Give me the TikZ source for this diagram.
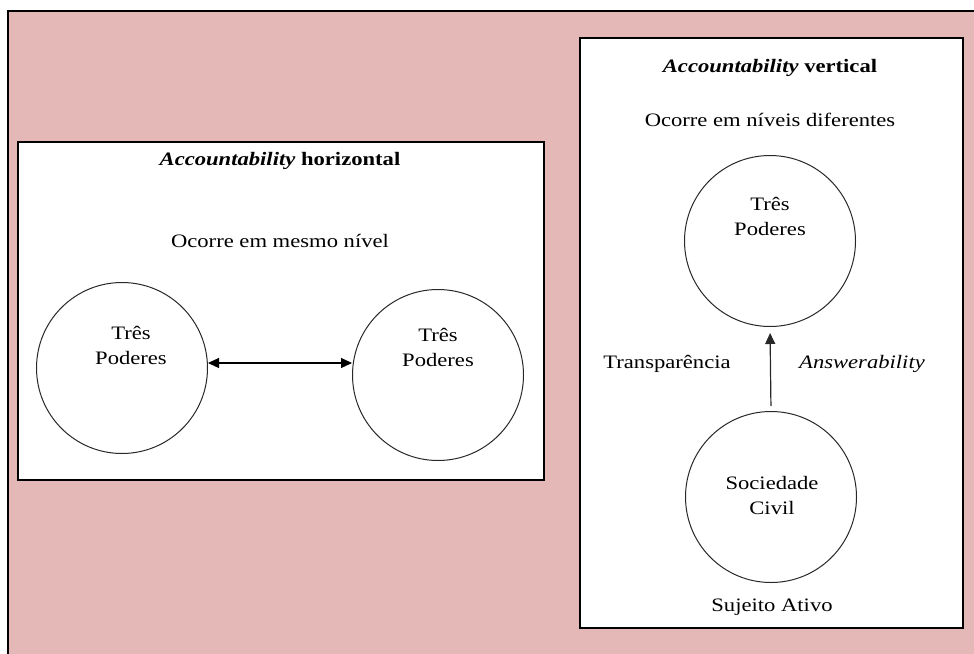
\documentclass[tikz,border=0pt]{standalone}
\usepackage{fontspec}
\setmainfont{Liberation Serif}[FakeStretch=1.19]
\usetikzlibrary{arrows.meta}
\definecolor{bgpink}{RGB}{228,184,182}
\definecolor{ringgray}{RGB}{40,40,40}
\begin{document}
\begin{tikzpicture}[x=1pt,y=-1pt,
  panel/.style={draw=black,line width=1.6pt,fill=white},
  ring/.style={circle,draw=ringgray,line width=1pt,minimum size=171pt,inner sep=0pt},
  label/.style={font=\fontsize{19}{25}\selectfont,align=center,inner sep=0pt},
  link/.style={line width=1.2pt,-{Triangle[length=11pt,width=10pt]}}]
  \useasboundingbox (0,0) rectangle (974,653);
  \begin{scope}
    \clip (0,0) rectangle (974,653);
    % outer frame
    \draw[fill=bgpink,line width=2pt] (8,11) rectangle (990,670);
  \end{scope}
  % horizontal panel
  \draw[panel] (18,142) rectangle (544,480);
  \node[label] (th) at (280,161) {\textit{\textbf{Accountability}} \textbf{horizontal}};
  \node[label] (sh) at (280,241) {Ocorre em mesmo nível};
  \node[ring] (c1) at (122,368) {};
  \node[ring] (c2) at (438,375) {};
  \node[label] (t1) at (131,345) {Três\\Poderes};
  \node[label] (t2) at (438,347) {Três\\Poderes};
  \draw[link,{Triangle[length=11pt,width=10pt]}-{Triangle[length=11pt,width=10pt]}] (c1.east |- 0,363) -- (c2.west |- 0,363);
  % vertical panel
  \draw[panel] (580,38) rectangle (963,628);
  \node[label] (tv) at (770,68) {\textit{\textbf{Accountability}} \textbf{vertical}};
  \node[label] (sv) at (770,120) {Ocorre em níveis diferentes};
  \node[ring] (c3) at (770,241) {};
  \node[ring] (c4) at (771,497) {};
  \node[label] (t3) at (770,216) {Três\\Poderes};
  \node[label] (t4) at (772,495) {Sociedade\\Civil};
  \node[label] (sa) at (772,607) {Sujeito Ativo};
  \node[label] (tr) at (667,364) {Transparência};
  \node[label] (an) at (862,364) {\textit{Answerability}};
  \draw[link,draw=ringgray,shorten <=5pt,shorten >=6pt] (c4.north) -- (c3.south);
\end{tikzpicture}
\end{document}
